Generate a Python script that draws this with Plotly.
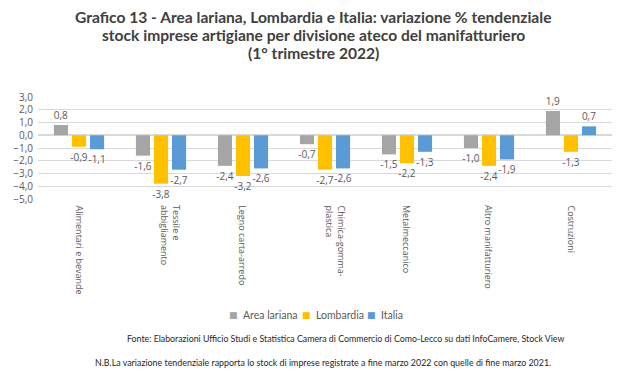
import plotly.graph_objects as go

categories = ["Alimentari e bevande", "Tessile e<br>abbigliamento", "Legno carta-arredo",
              "Chimica-gomma-<br>plastica", "Metalmeccanico", "Altro manifatturiero", "Costruzioni"]
area_lariana = [0.8, -1.6, -2.4, -0.7, -1.5, -1.0, 1.9]
lombardia = [-0.9, -3.8, -3.2, -2.7, -2.2, -2.4, -1.3]
italia = [-1.1, -2.7, -2.6, -2.6, -1.3, -1.9, 0.7]
y_ticks = [3, 2, 1, 0, -1, -2, -3, -4, -5]

series = [("Area lariana", area_lariana, "#A5A5A5"),
          ("Lombardia", lombardia, "#FFC000"),
          ("Italia", italia, "#5B9BD5")]

fig = go.Figure()
for name, vals, col in series:
    fig.add_trace(go.Bar(
        x=categories, y=vals, name=name, marker=dict(color=col, line=dict(width=0)),
        texttemplate="%{y:.1f}", textposition="outside", cliponaxis=False,
        constraintext="none", textfont=dict(size=10, color="#595959", family="Open Sans"),
        showlegend=False,
    ))

# page has an 8px body margin; window coordinates -> figure coordinates
OFF = 8
left, right, top, bottom = 38, 612, 97, 199
W = right - left
H = bottom - top
def xp(p):
    return (p - left) / W
def yp(p):
    return (bottom - p) / H

fig.update_layout(
    width=640, height=385,
    margin=dict(l=left - OFF, r=640 - (right - OFF), t=top - OFF, b=385 - (bottom - OFF), autoexpand=False),
    paper_bgcolor="white", plot_bgcolor="white",
    separators=",.",
    barmode="group", bargap=0.34, bargroupgap=0.22,
    showlegend=False,
    xaxis=dict(showticklabels=False, showline=False, ticks="", automargin=False, showgrid=False),
    yaxis=dict(range=[-5, 3], tickvals=y_ticks, tickformat=".1f",
               tickfont=dict(size=10, color="#595959", family="Open Sans"),
               ticklabelstandoff=4,
               gridcolor="#D9D9D9", gridwidth=1, zeroline=True, zerolinecolor="#D9D9D9",
               automargin=False, ticks=""),
    font=dict(family="Open Sans"),
)

# category labels, rotated, starting just below the plot area
for cat in categories:
    shift = 10 if "<br>" in cat else 0
    fig.add_annotation(text=cat, xref="x", yref="paper", x=cat, y=yp(203), xshift=shift,
                       xanchor="center", yanchor="top", textangle=90, align="left",
                       showarrow=False, font=dict(size=9, color="#595959", family="Open Sans"))

title_lines = ["Grafico 13 - Area lariana, Lombardia e Italia: variazione % tendenziale",
               "stock imprese artigiane per divisione ateco del manifatturiero",
               "(1° trimestre 2022)"]
for line, ypix in zip(title_lines, [17, 35, 53.5]):
    fig.add_annotation(text="<b>" + line + "</b>", xref="paper", yref="paper",
                       x=xp(313), y=yp(ypix), xanchor="center", yanchor="middle",
                       showarrow=False, font=dict(size=15.6, color="#404040", family="Lato"))

# legend drawn as text
legend_items = [("Area lariana", "#A5A5A5", 233), ("Lombardia", "#FFC000", 306), ("Italia", "#5B9BD5", 371)]
for name, col, xpix in legend_items:
    fig.add_annotation(text="■", xref="paper", yref="paper", x=xp(xpix), y=yp(315),
                       xanchor="center", yanchor="middle", showarrow=False,
                       font=dict(size=9, color=col, family="DejaVu Sans"))
    fig.add_annotation(text=name, xref="paper", yref="paper", x=xp(xpix + 8), y=yp(315),
                       xanchor="left", yanchor="middle", showarrow=False,
                       font=dict(size=10.5, color="#595959", family="Lato"))

fig.add_annotation(text="Fonte: Elaborazioni Ufficio Studi e Statistica Camera di Commercio di Como-Lecco su dati InfoCamere, Stock View",
                   xref="paper", yref="paper", x=xp(345.5), y=yp(338),
                   xanchor="center", yanchor="middle", showarrow=False,
                   font=dict(size=8.8, color="#262626", family="Lato"))
fig.add_annotation(text="N.B.La variazione tendenziale rapporta lo stock di imprese registrate a fine marzo 2022 con quelle di fine marzo 2021.",
                   xref="paper", yref="paper", x=xp(322.5), y=yp(362),
                   xanchor="center", yanchor="middle", showarrow=False,
                   font=dict(size=8.9, color="#262626", family="Lato"))

fig.write_html("out.html")
